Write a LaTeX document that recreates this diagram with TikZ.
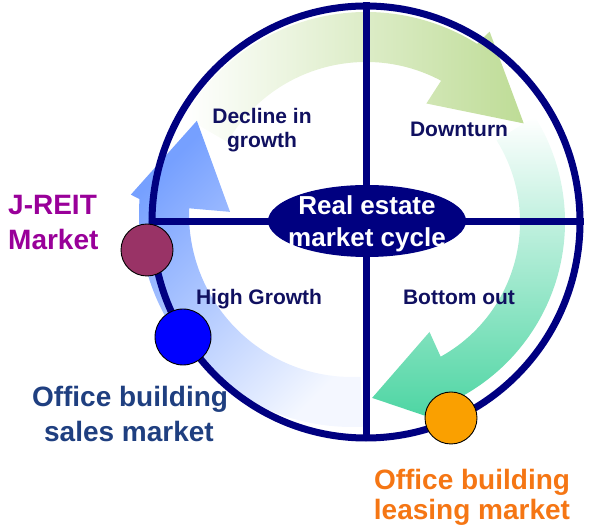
\documentclass[tikz,border=0pt]{standalone}
\usepackage{fontspec}
\setmainfont{Liberation Sans}
\usetikzlibrary{shapes.geometric}
\definecolor{navy}{RGB}{0,0,128}
\definecolor{labnavy}{RGB}{16,16,96}
\definecolor{greenhead}{RGB}{190,220,150}
\definecolor{tealhead}{RGB}{72,212,160}
\definecolor{bluehead}{RGB}{118,160,255}
\definecolor{jreit}{RGB}{153,0,153}
\definecolor{dotpurple}{RGB}{153,51,102}
\definecolor{salestext}{RGB}{31,63,128}
\definecolor{leasetext}{RGB}{245,118,20}
\definecolor{dotorange}{RGB}{250,160,0}
\begin{document}
\begin{tikzpicture}[x=1bp,y=1bp,
  quad/.style={font=\bfseries\fontsize{21bp}{25bp}\selectfont, text=labnavy, anchor=base, inner sep=0},
  outer/.style={font=\bfseries\fontsize{28bp}{34bp}\selectfont, anchor=base, inner sep=0},
  centre/.style={font=\bfseries\fontsize{26bp}{31bp}\selectfont, text=white, anchor=base, inner sep=0},
  dot/.style={circle, draw=black, line width=0.9bp, minimum size=52bp, inner sep=0}]
\useasboundingbox (0,0) rectangle (597,530);
% arrows
\begin{scope}[shift={(366,308)}]
  \shade[top color=white, middle color=tealhead!30, bottom color=tealhead]
    (32:199) arc[start angle=32, end angle=-62, radius=199] -- (-66:224) -- (-88:176)
    -- (-60:127) -- (-61:154) arc[start angle=-61, end angle=32, radius=154] -- cycle;
  \shade[left color=white, middle color=greenhead!45, right color=greenhead]
    (150:160) arc[start angle=150, end angle=62, radius=160] -- (63:133) -- (32:186)
    -- (57:227) -- (58:210) arc[start angle=58, end angle=150, radius=210] -- cycle;
\end{scope}
\begin{scope}[shift={(352,316)}]
  \shade[top color=bluehead, bottom color=bluehead!8, shading angle=45]
    (273:163) arc[start angle=273, end angle=178, radius=163] -- (179:122) -- (149:181)
    -- (175:222) -- (176:213) arc[start angle=176, end angle=273, radius=213] -- cycle;
\end{scope}
% ring and cross
\node[ellipse, draw=navy, line width=7bp, minimum width=428bp, minimum height=432bp, inner sep=0] (ring) at (366,308) {};
\draw[navy, line width=7bp] (ring.north) -- (ring.south);
\draw[navy, line width=7bp] (ring.west) -- (ring.east);
\node[ellipse, fill=navy, minimum width=198bp, minimum height=72bp, inner sep=0] (cycle) at (367,309) {};
\node[centre] (re1) at (367,315) {Real estate};
\node[centre] (re2) at (367,283) {market cycle};
% quadrant labels
\node[quad] (dec1) at (262,406) {Decline in};
\node[quad] (dec2) at (262,382) {growth};
\node[quad] (down) at (459,393) {Downturn};
\node[quad] (high) at (259,225) {High Growth};
\node[quad] (bott) at (459,225) {Bottom out};
% dots
\node[dot, fill=dotpurple] (jdot) at (147,280) {};
\node[dot, fill=blue, minimum size=56bp] (sdot) at (183,193) {};
\node[dot, fill=dotorange] (odot) at (451,112) {};
% outer labels
\node[outer, text=jreit, anchor=base west] (j1) at (8,315) {J-REIT};
\node[outer, text=jreit, anchor=base west] (j2) at (8,280) {Market};
\node[outer, text=salestext] (s1) at (130,123) {Office building};
\node[outer, text=salestext] (s2) at (129,88) {sales market};
\node[outer, text=leasetext] (l1) at (472,40) {Office building};
\node[outer, text=leasetext] (l2) at (472,10) {leasing market};
\end{tikzpicture}
\end{document}
